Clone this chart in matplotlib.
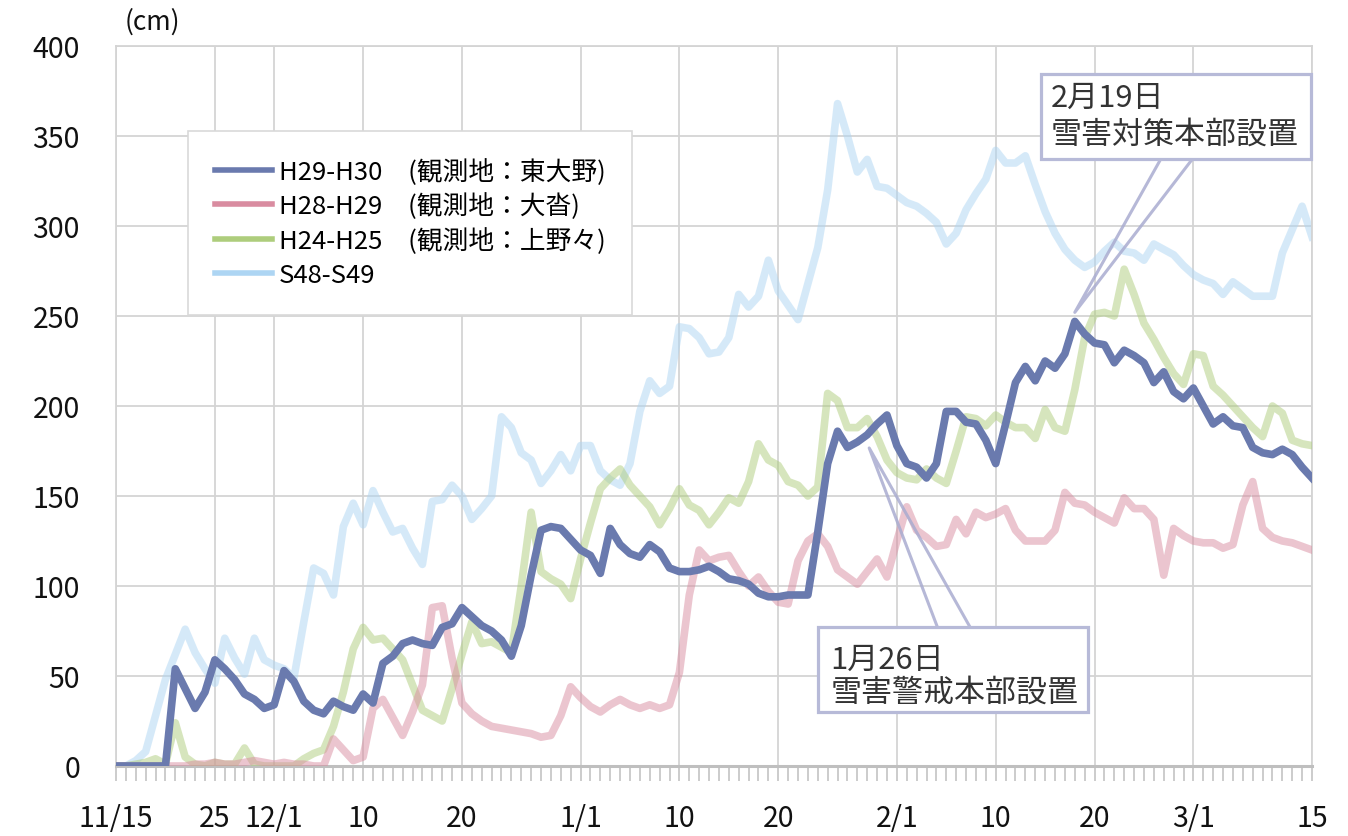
import numpy as np
import matplotlib
matplotlib.use("Agg")
import matplotlib.pyplot as plt
from matplotlib.lines import Line2D
from matplotlib.patches import Rectangle

plt.rcParams['font.family'] = ['Noto Sans CJK JP', 'DejaVu Sans']

# daily snow depth (cm), 11/15 .. 3/15
h29_h30 = [0, 0, 0, 0, 0, 0, 54, 43, 32, 41, 59,
           54, 48, 40, 37, 32, 34, 53, 47, 36, 31,
           29, 36, 33, 31, 40, 35, 57, 61, 68, 70,
           68, 67, 77, 79, 88, 83, 78, 75, 70, 61,
           78, 106, 131, 133, 132, 126, 120, 117, 107, 132,
           123, 118, 116, 123, 119, 110, 108, 108, 109, 111,
           108, 104, 103, 101, 96, 94, 94, 95, 95, 95,
           130, 168, 186, 177, 180, 184, 190, 195, 178, 168,
           166, 160, 168, 197, 197, 191, 190, 181, 168, 190,
           213, 222, 214, 225, 221, 229, 247, 240, 235, 234,
           224, 231, 228, 224, 213, 219, 208, 204, 210, 200,
           190, 194, 189, 188, 177, 174, 173, 176, 173, 166, 160]

h28_h29 = [0, 0, 0, 0, 0, 0, 0, 0, 1, 1, 2,
           1, 1, 2, 3, 2, 1, 2, 1, 1, 0,
           0, 15, 9, 3, 5, 32, 37, 27, 17, 30,
           45, 88, 89, 60, 35, 29, 25, 22, 21, 20,
           19, 18, 16, 17, 28, 44, 38, 33, 30, 34,
           37, 34, 32, 34, 32, 34, 52, 95, 120, 114,
           116, 117, 108, 100, 105, 97, 91, 90, 114, 125,
           129, 122, 109, 105, 101, 108, 115, 105, 125, 144,
           131, 127, 122, 123, 137, 129, 141, 138, 140, 143,
           131, 125, 125, 125, 131, 152, 146, 145, 141, 138,
           135, 149, 143, 143, 137, 106, 132, 128, 125, 124,
           124, 121, 123, 145, 158, 132, 127, 125, 124, 122, 120]

h24_h25 = [0, 0, 1, 2, 4, 1, 24, 5, 1, 0, 2,
           1, 1, 10, 1, 0, 0, 0, 0, 4, 7,
           9, 22, 41, 65, 77, 70, 71, 65, 59, 45,
           31, 28, 25, 43, 62, 80, 68, 69, 66, 63,
           100, 141, 108, 104, 101, 93, 115, 135, 154, 160,
           165, 156, 150, 144, 134, 143, 154, 145, 142, 134,
           141, 149, 146, 158, 179, 170, 167, 158, 156, 150,
           155, 207, 203, 188, 188, 193, 183, 170, 163, 160,
           159, 165, 160, 157, 175, 194, 193, 189, 195, 191,
           188, 188, 182, 198, 188, 186, 209, 238, 251, 252,
           250, 276, 262, 246, 237, 227, 218, 212, 229, 228,
           211, 206, 200, 194, 188, 183, 200, 196, 181, 179, 178]

s48_s49 = [0, 0, 3, 8, 28, 48, 62, 76, 63, 54, 46,
           71, 60, 51, 71, 59, 56, 54, 49, 80, 110,
           107, 95, 133, 146, 134, 153, 141, 130, 132, 121,
           112, 147, 148, 156, 150, 137, 143, 150, 194, 188,
           174, 170, 157, 164, 173, 164, 178, 178, 164, 159,
           156, 168, 197, 214, 207, 211, 244, 243, 238, 229,
           230, 238, 262, 255, 261, 281, 264, 256, 248, 268,
           288, 320, 368, 350, 330, 337, 322, 321, 317, 313,
           311, 307, 302, 290, 296, 309, 318, 326, 342, 335,
           335, 339, 323, 308, 296, 287, 281, 277, 280, 286,
           291, 286, 285, 281, 290, 287, 284, 278, 273, 270,
           268, 262, 269, 265, 261, 261, 261, 285, 298, 311, 294]

tick_pos = [0, 10, 16, 25, 35, 47, 57, 67, 79, 89, 99, 109, 121]
tick_labels = ['11/15', '25', '12/1', '10', '20', '1/1', '10', '20',
               '2/1', '10', '20', '3/1', '15']

names = ['H29-H30\u3000(観測地：東大野)',
         'H28-H29\u3000(観測地：大沓)',
         'H24-H25\u3000(観測地：上野々)',
         'S48-S49']
colors = ['#6a7aae', '#d98ca0', '#aecd7c', '#add5f3']

fig = plt.figure(figsize=(13.48, 8.37), dpi=100)
ax = fig.add_axes([116 / 1348, 1 - 767 / 837, 1196 / 1348, 720 / 837])

x = np.arange(len(h29_h30))
ax.plot(x, s48_s49, color=colors[3], alpha=0.5, lw=5.5, solid_joinstyle='round', zorder=2)
ax.plot(x, h24_h25, color=colors[2], alpha=0.5, lw=5.5, solid_joinstyle='round', zorder=3)
ax.plot(x, h28_h29, color=colors[1], alpha=0.5, lw=5.5, solid_joinstyle='round', zorder=4)
ax.plot(x, h29_h30, color=colors[0], lw=5.5, solid_joinstyle='round', zorder=5)

ax.set_xlim(0, 121)
ax.set_ylim(0, 400)
ax.set_yticks(range(0, 401, 50))
ax.set_xticks(tick_pos)
ax.set_xticklabels(tick_labels)
ax.set_xticks(np.arange(0, 122), minor=True)
ax.grid(True, color='#d4d4d4', lw=1.3)
ax.set_axisbelow(True)
ax.tick_params(axis='y', length=0, pad=26, labelsize=20.5, labelcolor='#111111')
ax.tick_params(axis='x', which='both', length=11, width=1.3, color='#c8c8c8',
               direction='out')
ax.tick_params(axis='x', which='major', pad=16, labelsize=20.5, labelcolor='#111111')
for side in ['top', 'left', 'right']:
    ax.spines[side].set_color('#d4d4d4')
    ax.spines[side].set_linewidth(1.3)
ax.spines['bottom'].set_color('#bfbfbf')
ax.spines['bottom'].set_linewidth(2.2)

fig.text(152 / 1348, 1 - 22 / 837, '(cm)', ha='center', va='center',
         fontsize=19, color='#111111')

handles = [Line2D([0], [0], color=c, lw=4) for c in colors]
leg = ax.legend(handles, names, loc='upper left', bbox_to_anchor=(72 / 1196, 635 / 720),
                borderaxespad=0, fontsize=18.5, frameon=True, fancybox=False,
                edgecolor='#d9d9d9', framealpha=1, borderpad=1.05, labelspacing=0.3,
                handlelength=2.2, handletextpad=0.28)
leg.get_frame().set_linewidth(1.2)
leg.set_zorder(8)

# callout 2/19
box_c = '#b7bad8'
txt_c = '#333333'
ax.add_patch(Rectangle((93.6, 337.2), 27.25, 47.2, facecolor='white', edgecolor=box_c,
                       lw=2.3, zorder=7, clip_on=False))
ax.text(94.6, 371.7, '2月19日', fontsize=22.3, color=txt_c, va='center', zorder=8)
ax.text(94.6, 351.0, '雪害対策本部設置', fontsize=22.3, color=txt_c, va='center', zorder=8)
ax.plot([105.7, 97.0, 108.9], [337.2, 252.0, 337.2], color='#a9acd0', lw=2.2,
        alpha=0.85, zorder=6)

# callout 1/26
ax.add_patch(Rectangle((71.05, 30.0), 27.25, 47.2, facecolor='white', edgecolor=box_c,
                       lw=2.3, zorder=7))
ax.text(72.3, 59.4, '1月26日', fontsize=22.3, color=txt_c, va='center', zorder=8)
ax.text(72.3, 41.1, '雪害警戒本部設置', fontsize=22.3, color=txt_c, va='center', zorder=8)
ax.plot([83.1, 76.2, 86.4], [77.2, 176.7, 77.2], color='#a9acd0', lw=2.2,
        alpha=0.85, zorder=6)

fig.savefig('out.png', dpi=100, facecolor='white')
